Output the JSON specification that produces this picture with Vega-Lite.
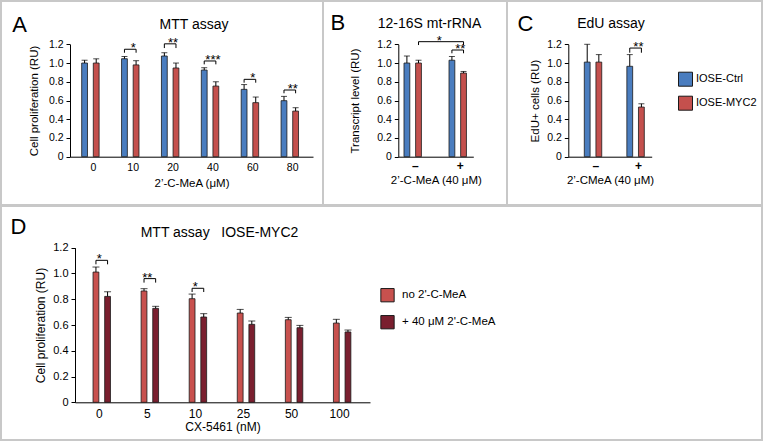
{
"$schema": "https://vega.github.io/schema/vega-lite/v6.json",
"padding": 0,
"spacing": -2,
"datasets": {
"barsA": [
{"dose":"0","group":"IOSE-Ctrl","value":1.0,"upper":1.03},
{"dose":"0","group":"IOSE-MYC2","value":1.0,"upper":1.045},
{"dose":"10","group":"IOSE-Ctrl","value":1.046,"upper":1.07},
{"dose":"10","group":"IOSE-MYC2","value":0.98,"upper":1.025},
{"dose":"20","group":"IOSE-Ctrl","value":1.075,"upper":1.11},
{"dose":"20","group":"IOSE-MYC2","value":0.947,"upper":1.0},
{"dose":"40","group":"IOSE-Ctrl","value":0.925,"upper":0.95},
{"dose":"40","group":"IOSE-MYC2","value":0.754,"upper":0.8},
{"dose":"60","group":"IOSE-Ctrl","value":0.719,"upper":0.77},
{"dose":"60","group":"IOSE-MYC2","value":0.577,"upper":0.637},
{"dose":"80","group":"IOSE-Ctrl","value":0.598,"upper":0.644},
{"dose":"80","group":"IOSE-MYC2","value":0.487,"upper":0.523}
],
"brkA": [
{"id":"10","dose":"10","group":"IOSE-Ctrl","y":1.11,"o":1},
{"id":"10","dose":"10","group":"IOSE-Ctrl","y":1.147,"o":2},
{"id":"10","dose":"10","group":"IOSE-MYC2","y":1.147,"o":3},
{"id":"10","dose":"10","group":"IOSE-MYC2","y":1.11,"o":4},
{"id":"20","dose":"20","group":"IOSE-Ctrl","y":1.16,"o":1},
{"id":"20","dose":"20","group":"IOSE-Ctrl","y":1.205,"o":2},
{"id":"20","dose":"20","group":"IOSE-MYC2","y":1.205,"o":3},
{"id":"20","dose":"20","group":"IOSE-MYC2","y":1.16,"o":4},
{"id":"40","dose":"40","group":"IOSE-Ctrl","y":0.986,"o":1},
{"id":"40","dose":"40","group":"IOSE-Ctrl","y":1.022,"o":2},
{"id":"40","dose":"40","group":"IOSE-MYC2","y":1.022,"o":3},
{"id":"40","dose":"40","group":"IOSE-MYC2","y":0.986,"o":4},
{"id":"60","dose":"60","group":"IOSE-Ctrl","y":0.79,"o":1},
{"id":"60","dose":"60","group":"IOSE-Ctrl","y":0.826,"o":2},
{"id":"60","dose":"60","group":"IOSE-MYC2","y":0.826,"o":3},
{"id":"60","dose":"60","group":"IOSE-MYC2","y":0.79,"o":4},
{"id":"80","dose":"80","group":"IOSE-Ctrl","y":0.677,"o":1},
{"id":"80","dose":"80","group":"IOSE-Ctrl","y":0.712,"o":2},
{"id":"80","dose":"80","group":"IOSE-MYC2","y":0.712,"o":3},
{"id":"80","dose":"80","group":"IOSE-MYC2","y":0.677,"o":4}
],
"starsA": [
{"dose":"10","label":"*","y":1.147},
{"dose":"20","label":"**","y":1.205},
{"dose":"40","label":"***","y":1.022},
{"dose":"60","label":"*","y":0.826},
{"dose":"80","label":"**","y":0.712}
],
"barsB": [
{"dose":"–","group":"IOSE-Ctrl","value":1.0,"upper":1.075},
{"dose":"–","group":"IOSE-MYC2","value":1.0,"upper":1.03},
{"dose":"+","group":"IOSE-Ctrl","value":1.03,"upper":1.07},
{"dose":"+","group":"IOSE-MYC2","value":0.893,"upper":0.91}
],
"brkB": [
{"id":"L","dose":"–","group":"IOSE-MYC2","y":1.192,"o":1},
{"id":"L","dose":"–","group":"IOSE-MYC2","y":1.228,"o":2},
{"id":"L","dose":"+","group":"IOSE-MYC2","y":1.228,"o":3},
{"id":"L","dose":"+","group":"IOSE-MYC2","y":1.192,"o":4},
{"id":"S","dose":"+","group":"IOSE-Ctrl","y":1.104,"o":1},
{"id":"S","dose":"+","group":"IOSE-Ctrl","y":1.139,"o":2},
{"id":"S","dose":"+","group":"IOSE-MYC2","y":1.139,"o":3},
{"id":"S","dose":"+","group":"IOSE-MYC2","y":1.104,"o":4}
],
"starsB": [
{"dose":"+","label":"**","y":1.139}
],
"starsB2": [
{"dose":"+","group":"IOSE-Ctrl","label":"*","y":1.228}
],
"barsC": [
{"dose":"–","group":"IOSE-Ctrl","value":1.01,"upper":1.2},
{"dose":"–","group":"IOSE-MYC2","value":1.01,"upper":1.09},
{"dose":"+","group":"IOSE-Ctrl","value":0.965,"upper":1.09},
{"dose":"+","group":"IOSE-MYC2","value":0.53,"upper":0.565}
],
"brkC": [
{"id":"S","dose":"+","group":"IOSE-Ctrl","y":1.11,"o":1},
{"id":"S","dose":"+","group":"IOSE-Ctrl","y":1.16,"o":2},
{"id":"S","dose":"+","group":"IOSE-MYC2","y":1.16,"o":3},
{"id":"S","dose":"+","group":"IOSE-MYC2","y":1.11,"o":4}
],
"starsC": [
{"dose":"+","label":"**","y":1.16}
],
"barsD": [
{"dose":"0","group":"no 2'-C-MeA","value":1.011,"upper":1.05},
{"dose":"0","group":"+ 40 μM 2'-C-MeA","value":0.822,"upper":0.858},
{"dose":"5","group":"no 2'-C-MeA","value":0.864,"upper":0.882},
{"dose":"5","group":"+ 40 μM 2'-C-MeA","value":0.729,"upper":0.745},
{"dose":"10","group":"no 2'-C-MeA","value":0.804,"upper":0.84},
{"dose":"10","group":"+ 40 μM 2'-C-MeA","value":0.662,"upper":0.688},
{"dose":"25","group":"no 2'-C-MeA","value":0.693,"upper":0.721},
{"dose":"25","group":"+ 40 μM 2'-C-MeA","value":0.605,"upper":0.631},
{"dose":"50","group":"no 2'-C-MeA","value":0.641,"upper":0.659},
{"dose":"50","group":"+ 40 μM 2'-C-MeA","value":0.579,"upper":0.597},
{"dose":"100","group":"no 2'-C-MeA","value":0.615,"upper":0.644},
{"dose":"100","group":"+ 40 μM 2'-C-MeA","value":0.546,"upper":0.561}
],
"brkD": [
{"id":"0","dose":"0","group":"no 2'-C-MeA","y":1.071,"o":1},
{"id":"0","dose":"0","group":"no 2'-C-MeA","y":1.102,"o":2},
{"id":"0","dose":"0","group":"+ 40 μM 2'-C-MeA","y":1.102,"o":3},
{"id":"0","dose":"0","group":"+ 40 μM 2'-C-MeA","y":1.071,"o":4},
{"id":"5","dose":"5","group":"no 2'-C-MeA","y":0.929,"o":1},
{"id":"5","dose":"5","group":"no 2'-C-MeA","y":0.96,"o":2},
{"id":"5","dose":"5","group":"+ 40 μM 2'-C-MeA","y":0.96,"o":3},
{"id":"5","dose":"5","group":"+ 40 μM 2'-C-MeA","y":0.929,"o":4},
{"id":"10","dose":"10","group":"no 2'-C-MeA","y":0.856,"o":1},
{"id":"10","dose":"10","group":"no 2'-C-MeA","y":0.885,"o":2},
{"id":"10","dose":"10","group":"+ 40 μM 2'-C-MeA","y":0.885,"o":3},
{"id":"10","dose":"10","group":"+ 40 μM 2'-C-MeA","y":0.856,"o":4}
],
"starsD": [
{"dose":"0","label":"*","y":1.102},
{"dose":"5","label":"**","y":0.96},
{"dose":"10","label":"*","y":0.885}
]
},
"vconcat": [
{
"bounds": "flush",
"spacing": 0,
"hconcat": [
{
"width": 322, "height": 204,
"title": {"text": "MTT assay", "frame": "group", "anchor": "middle", "dx": 32, "offset": -41.8, "baseline": "alphabetic", "fontSize": 14},
"layer": [
{"data": {"name": "barsA"}, "mark": {"type": "bar", "stroke": "#1a1a1a", "strokeWidth": 0.8},
 "encoding": {
  "x": {"field": "dose", "type": "nominal", "sort": ["0","10","20","40","60","80"],
        "scale": {"range": [69, 312], "paddingInner": 0.417, "paddingOuter": 0.255, "align": 0.574},
        "axis": {"orient": "bottom", "offset": -48.3, "ticks": false, "labelAngle": 0, "labelPadding": 6, "title": "2’-C-MeA (μM)", "titlePadding": 4}},
  "xOffset": {"field": "group", "type": "nominal", "sort": ["IOSE-Ctrl","IOSE-MYC2"]},
  "y": {"field": "value", "type": "quantitative",
        "scale": {"domain": [0, 1.2], "range": [155.7, 43.3], "nice": false},
        "axis": {"orient": "left", "offset": -69, "values": [0,0.2,0.4,0.6,0.8,1,1.2], "labelOverlap": false, "labelExpr": "datum.value == 0 ? '0' : format(datum.value, '.1f')", "title": "Cell proliferation (RU)", "titlePadding": 9}},
  "color": {"field": "group", "type": "nominal", "scale": {"domain": ["IOSE-Ctrl","IOSE-MYC2"], "range": ["#4a7dbf","#c4504d"]}, "legend": null}
 }},
{"data": {"name": "barsA"}, "mark": {"type": "rule", "color": "#000", "strokeWidth": 1},
 "encoding": {
  "x": {"field": "dose", "type": "nominal", "sort": ["0","10","20","40","60","80"],
        "axis": {"orient": "top", "title": "A", "titleX": 10.7, "titleY": 30.7, "titleAngle": 0, "titleAlign": "left", "titleBaseline": "alphabetic", "titleFontSize": 22, "labels": false, "ticks": false, "domain": false}},
  "xOffset": {"field": "group", "type": "nominal", "sort": ["IOSE-Ctrl","IOSE-MYC2"]},
  "y": {"field": "value", "type": "quantitative", "axis": {"orient": "left", "offset": -69, "values": [0,0.2,0.4,0.6,0.8,1,1.2], "labelOverlap": false, "labelExpr": "datum.value == 0 ? '0' : format(datum.value, '.1f')", "title": "Cell proliferation (RU)", "titlePadding": 9}},
  "y2": {"field": "upper"}
 }},
{"data": {"name": "barsA"}, "mark": {"type": "tick", "color": "#000", "size": 6, "thickness": 1},
 "encoding": {
  "x": {"field": "dose", "type": "nominal", "sort": ["0","10","20","40","60","80"], "axis": null},
  "xOffset": {"field": "group", "type": "nominal", "sort": ["IOSE-Ctrl","IOSE-MYC2"]},
  "y": {"field": "upper", "type": "quantitative", "axis": {"orient": "left", "offset": -69, "values": [0,0.2,0.4,0.6,0.8,1,1.2], "labelOverlap": false, "labelExpr": "datum.value == 0 ? '0' : format(datum.value, '.1f')", "title": "Cell proliferation (RU)", "titlePadding": 9}}
 }},
{"data": {"name": "brkA"}, "mark": {"type": "line", "color": "#000", "strokeWidth": 1},
 "encoding": {
  "x": {"field": "dose", "type": "nominal", "sort": ["0","10","20","40","60","80"], "axis": null},
  "xOffset": {"field": "group", "type": "nominal", "sort": ["IOSE-Ctrl","IOSE-MYC2"]},
  "y": {"field": "y", "type": "quantitative", "axis": {"orient": "left", "offset": -69, "values": [0,0.2,0.4,0.6,0.8,1,1.2], "labelOverlap": false, "labelExpr": "datum.value == 0 ? '0' : format(datum.value, '.1f')", "title": "Cell proliferation (RU)", "titlePadding": 9}},
  "detail": {"field": "id"},
  "order": {"field": "o"}
 }},
{"data": {"name": "starsA"}, "mark": {"type": "text", "fontSize": 13, "baseline": "alphabetic", "dy": 3, "color": "#000"},
 "encoding": {
  "x": {"field": "dose", "type": "nominal", "sort": ["0","10","20","40","60","80"], "axis": null},
  "y": {"field": "y", "type": "quantitative", "axis": {"orient": "left", "offset": -69, "values": [0,0.2,0.4,0.6,0.8,1,1.2], "labelOverlap": false, "labelExpr": "datum.value == 0 ? '0' : format(datum.value, '.1f')", "title": "Cell proliferation (RU)", "titlePadding": 9}},
  "text": {"field": "label"}
 }}
],
"resolve": {"axis": {"x": "independent"}}
},
{
"width": 184, "height": 204,
"title": {"text": "12-16S mt-rRNA", "frame": "group", "anchor": "middle", "dx": 14.5, "offset": -40.5, "baseline": "alphabetic", "fontSize": 14},
"layer": [
{"data": {"name": "barsB"}, "mark": {"type": "bar", "stroke": "#1a1a1a", "strokeWidth": 0.8},
 "encoding": {
  "x": {"field": "dose", "type": "nominal", "sort": ["–","+"],
        "scale": {"range": [75.3, 150.3], "paddingInner": 0.496, "paddingOuter": 0.081, "align": 0.78},
        "axis": {"orient": "bottom", "offset": -48.3, "ticks": false, "labelAngle": 0, "labelPadding": 4, "labelFontSize": 12, "labelFontWeight": "bold", "title": "2’-C-MeA (40 μM)", "titlePadding": 3}},
  "xOffset": {"field": "group", "type": "nominal", "sort": ["IOSE-Ctrl","IOSE-MYC2"]},
  "y": {"field": "value", "type": "quantitative",
        "scale": {"domain": [0, 1.2], "range": [155.7, 43.3], "nice": false},
        "axis": {"orient": "left", "offset": -75.3, "values": [0,0.2,0.4,0.6,0.8,1,1.2], "labelOverlap": false, "labelExpr": "datum.value == 0 ? '0' : format(datum.value, '.1f')", "title": "Transcript level (RU)", "titlePadding": 16}},
  "color": {"field": "group", "type": "nominal", "scale": {"domain": ["IOSE-Ctrl","IOSE-MYC2"], "range": ["#4a7dbf","#c4504d"]}, "legend": null}
 }},
{"data": {"name": "barsB"}, "mark": {"type": "rule", "color": "#000", "strokeWidth": 1},
 "encoding": {
  "x": {"field": "dose", "type": "nominal", "sort": ["–","+"],
        "axis": {"orient": "top", "title": "B", "titleX": 7, "titleY": 28, "titleAngle": 0, "titleAlign": "left", "titleBaseline": "alphabetic", "titleFontSize": 22, "labels": false, "ticks": false, "domain": false}},
  "xOffset": {"field": "group", "type": "nominal", "sort": ["IOSE-Ctrl","IOSE-MYC2"]},
  "y": {"field": "value", "type": "quantitative", "axis": {"orient": "left", "offset": -75.3, "values": [0,0.2,0.4,0.6,0.8,1,1.2], "labelOverlap": false, "labelExpr": "datum.value == 0 ? '0' : format(datum.value, '.1f')", "title": "Transcript level (RU)", "titlePadding": 16}},
  "y2": {"field": "upper"}
 }},
{"data": {"name": "barsB"}, "mark": {"type": "tick", "color": "#000", "size": 6, "thickness": 1},
 "encoding": {
  "x": {"field": "dose", "type": "nominal", "sort": ["–","+"], "axis": null},
  "xOffset": {"field": "group", "type": "nominal", "sort": ["IOSE-Ctrl","IOSE-MYC2"]},
  "y": {"field": "upper", "type": "quantitative", "axis": {"orient": "left", "offset": -75.3, "values": [0,0.2,0.4,0.6,0.8,1,1.2], "labelOverlap": false, "labelExpr": "datum.value == 0 ? '0' : format(datum.value, '.1f')", "title": "Transcript level (RU)", "titlePadding": 16}}
 }},
{"data": {"name": "brkB"}, "mark": {"type": "line", "color": "#000", "strokeWidth": 1},
 "encoding": {
  "x": {"field": "dose", "type": "nominal", "sort": ["–","+"], "axis": null},
  "xOffset": {"field": "group", "type": "nominal", "sort": ["IOSE-Ctrl","IOSE-MYC2"]},
  "y": {"field": "y", "type": "quantitative", "axis": {"orient": "left", "offset": -75.3, "values": [0,0.2,0.4,0.6,0.8,1,1.2], "labelOverlap": false, "labelExpr": "datum.value == 0 ? '0' : format(datum.value, '.1f')", "title": "Transcript level (RU)", "titlePadding": 16}},
  "detail": {"field": "id"},
  "order": {"field": "o"}
 }},
{"data": {"name": "starsB"}, "mark": {"type": "text", "fontSize": 13, "baseline": "alphabetic", "dy": 3, "color": "#000"},
 "encoding": {
  "x": {"field": "dose", "type": "nominal", "sort": ["–","+"], "axis": null},
  "y": {"field": "y", "type": "quantitative", "axis": {"orient": "left", "offset": -75.3, "values": [0,0.2,0.4,0.6,0.8,1,1.2], "labelOverlap": false, "labelExpr": "datum.value == 0 ? '0' : format(datum.value, '.1f')", "title": "Transcript level (RU)", "titlePadding": 16}},
  "text": {"field": "label"}
 }},
{"data": {"name": "starsB2"}, "mark": {"type": "text", "fontSize": 13, "baseline": "alphabetic", "dy": 3, "dx": -12.7, "color": "#000"},
 "encoding": {
  "x": {"field": "dose", "type": "nominal", "sort": ["–","+"], "axis": null},
  "xOffset": {"field": "group", "type": "nominal", "sort": ["IOSE-Ctrl","IOSE-MYC2"]},
  "y": {"field": "y", "type": "quantitative", "axis": {"orient": "left", "offset": -75.3, "values": [0,0.2,0.4,0.6,0.8,1,1.2], "labelOverlap": false, "labelExpr": "datum.value == 0 ? '0' : format(datum.value, '.1f')", "title": "Transcript level (RU)", "titlePadding": 16}},
  "text": {"field": "label"}
 }}
],
"resolve": {"axis": {"x": "independent"}}
},
{
"width": 255, "height": 204,
"title": {"text": "EdU assay", "frame": "group", "anchor": "middle", "dx": -23.5, "offset": -40.8, "baseline": "alphabetic", "fontSize": 14},
"layer": [
{"data": {"name": "barsC"}, "mark": {"type": "bar", "stroke": "#1a1a1a", "strokeWidth": 0.8},
 "encoding": {
  "x": {"field": "dose", "type": "nominal", "sort": ["–","+"],
        "scale": {"range": [61.3, 144.7], "paddingInner": 0.458, "paddingOuter": 0.209, "align": 0.9},
        "axis": {"orient": "bottom", "offset": -48.3, "ticks": false, "labelAngle": 0, "labelPadding": 4, "labelFontSize": 12, "labelFontWeight": "bold", "title": "2’-CMeA (40 μM)", "titlePadding": 3}},
  "xOffset": {"field": "group", "type": "nominal", "sort": ["IOSE-Ctrl","IOSE-MYC2"]},
  "y": {"field": "value", "type": "quantitative",
        "scale": {"domain": [0, 1.2], "range": [155.7, 43.3], "nice": false},
        "axis": {"orient": "left", "offset": -61.3, "values": [0,0.2,0.4,0.6,0.8,1,1.2], "labelOverlap": false, "labelExpr": "datum.value == 0 ? '0' : format(datum.value, '.1f')", "title": "EdU+ cells (RU)", "titlePadding": 6}},
  "color": {"field": "group", "type": "nominal", "scale": {"domain": ["IOSE-Ctrl","IOSE-MYC2"], "range": ["#4a7dbf","#c4504d"]},
            "legend": {"orient": "none", "legendX": 171, "legendY": 70.7, "title": null, "symbolType": "square", "symbolSize": 196, "symbolStrokeColor": "#1a1a1a", "symbolStrokeWidth": 1, "symbolOpacity": 1, "labelFontSize": 11, "labelOffset": 3, "rowPadding": 5, "padding": 0}}
 }},
{"data": {"name": "barsC"}, "mark": {"type": "rule", "color": "#000", "strokeWidth": 1},
 "encoding": {
  "x": {"field": "dose", "type": "nominal", "sort": ["–","+"],
        "axis": {"orient": "top", "title": "C", "titleX": 10, "titleY": 29, "titleAngle": 0, "titleAlign": "left", "titleBaseline": "alphabetic", "titleFontSize": 22, "labels": false, "ticks": false, "domain": false}},
  "xOffset": {"field": "group", "type": "nominal", "sort": ["IOSE-Ctrl","IOSE-MYC2"]},
  "y": {"field": "value", "type": "quantitative", "axis": {"orient": "left", "offset": -61.3, "values": [0,0.2,0.4,0.6,0.8,1,1.2], "labelOverlap": false, "labelExpr": "datum.value == 0 ? '0' : format(datum.value, '.1f')", "title": "EdU+ cells (RU)", "titlePadding": 6}},
  "y2": {"field": "upper"}
 }},
{"data": {"name": "barsC"}, "mark": {"type": "tick", "color": "#000", "size": 6, "thickness": 1},
 "encoding": {
  "x": {"field": "dose", "type": "nominal", "sort": ["–","+"], "axis": null},
  "xOffset": {"field": "group", "type": "nominal", "sort": ["IOSE-Ctrl","IOSE-MYC2"]},
  "y": {"field": "upper", "type": "quantitative", "axis": {"orient": "left", "offset": -61.3, "values": [0,0.2,0.4,0.6,0.8,1,1.2], "labelOverlap": false, "labelExpr": "datum.value == 0 ? '0' : format(datum.value, '.1f')", "title": "EdU+ cells (RU)", "titlePadding": 6}}
 }},
{"data": {"name": "brkC"}, "mark": {"type": "line", "color": "#000", "strokeWidth": 1},
 "encoding": {
  "x": {"field": "dose", "type": "nominal", "sort": ["–","+"], "axis": null},
  "xOffset": {"field": "group", "type": "nominal", "sort": ["IOSE-Ctrl","IOSE-MYC2"]},
  "y": {"field": "y", "type": "quantitative", "axis": {"orient": "left", "offset": -61.3, "values": [0,0.2,0.4,0.6,0.8,1,1.2], "labelOverlap": false, "labelExpr": "datum.value == 0 ? '0' : format(datum.value, '.1f')", "title": "EdU+ cells (RU)", "titlePadding": 6}},
  "detail": {"field": "id"},
  "order": {"field": "o"}
 }},
{"data": {"name": "starsC"}, "mark": {"type": "text", "fontSize": 13, "baseline": "alphabetic", "dy": 3, "color": "#000"},
 "encoding": {
  "x": {"field": "dose", "type": "nominal", "sort": ["–","+"], "axis": null},
  "y": {"field": "y", "type": "quantitative", "axis": {"orient": "left", "offset": -61.3, "values": [0,0.2,0.4,0.6,0.8,1,1.2], "labelOverlap": false, "labelExpr": "datum.value == 0 ? '0' : format(datum.value, '.1f')", "title": "EdU+ cells (RU)", "titlePadding": 6}},
  "text": {"field": "label"}
 }}
],
"resolve": {"axis": {"x": "independent"}}
}
],
"resolve": {"scale": {"color": "independent"}, "legend": {"color": "independent"}}
},
{
"width": 761, "height": 234,
"title": {"text": "MTT assay\u00a0\u00a0\u00a0IOSE-MYC2", "frame": "group", "anchor": "middle", "dx": -162, "offset": -44.8, "baseline": "alphabetic", "fontSize": 14},
"layer": [
{"data": {"name": "barsD"}, "mark": {"type": "bar", "stroke": "#1a1a1a", "strokeWidth": 0.8},
 "encoding": {
  "x": {"field": "dose", "type": "nominal", "sort": ["0","5","10","25","50","100"],
        "scale": {"range": [74, 369], "paddingInner": 0.5, "paddingOuter": 0.318, "align": 0.4},
        "axis": {"orient": "bottom", "offset": -37.7, "ticks": false, "labelAngle": 0, "labelPadding": 6, "labelFontSize": 12, "title": "CX-5461 (nM)", "titleFontSize": 12, "titlePadding": 2}},
  "xOffset": {"field": "group", "type": "nominal", "sort": ["no 2'-C-MeA","+ 40 μM 2'-C-MeA"]},
  "y": {"field": "value", "type": "quantitative",
        "scale": {"domain": [0, 1.2], "range": [196.3, 41.7], "nice": false},
        "axis": {"orient": "left", "offset": -74, "values": [0,0.2,0.4,0.6,0.8,1,1.2], "labelOverlap": false, "labelExpr": "datum.value == 0 ? '0' : format(datum.value, '.1f')", "labelFontSize": 11, "title": "Cell proliferation (RU)", "titleFontSize": 12, "titlePadding": 5}},
  "color": {"field": "group", "type": "nominal", "scale": {"domain": ["no 2'-C-MeA","+ 40 μM 2'-C-MeA"], "range": ["#c8514e","#7a1f2f"]},
            "legend": {"orient": "none", "legendX": 379, "legendY": 81.7, "title": null, "symbolType": "square", "symbolSize": 177, "symbolStrokeColor": "#1a1a1a", "symbolStrokeWidth": 1, "symbolOpacity": 1, "labelFontSize": 11.5, "labelOffset": 7, "rowPadding": 8, "padding": 0}}
 }},
{"data": {"name": "barsD"}, "mark": {"type": "rule", "color": "#000", "strokeWidth": 1},
 "encoding": {
  "x": {"field": "dose", "type": "nominal", "sort": ["0","5","10","25","50","100"],
        "axis": {"orient": "top", "title": "D", "titleX": 9, "titleY": 27, "titleAngle": 0, "titleAlign": "left", "titleBaseline": "alphabetic", "titleFontSize": 22, "labels": false, "ticks": false, "domain": false}},
  "xOffset": {"field": "group", "type": "nominal", "sort": ["no 2'-C-MeA","+ 40 μM 2'-C-MeA"]},
  "y": {"field": "value", "type": "quantitative", "axis": {"orient": "left", "offset": -74, "values": [0,0.2,0.4,0.6,0.8,1,1.2], "labelOverlap": false, "labelExpr": "datum.value == 0 ? '0' : format(datum.value, '.1f')", "labelFontSize": 11, "title": "Cell proliferation (RU)", "titleFontSize": 12, "titlePadding": 5}},
  "y2": {"field": "upper"}
 }},
{"data": {"name": "barsD"}, "mark": {"type": "tick", "color": "#000", "size": 7, "thickness": 1},
 "encoding": {
  "x": {"field": "dose", "type": "nominal", "sort": ["0","5","10","25","50","100"], "axis": null},
  "xOffset": {"field": "group", "type": "nominal", "sort": ["no 2'-C-MeA","+ 40 μM 2'-C-MeA"]},
  "y": {"field": "upper", "type": "quantitative", "axis": {"orient": "left", "offset": -74, "values": [0,0.2,0.4,0.6,0.8,1,1.2], "labelOverlap": false, "labelExpr": "datum.value == 0 ? '0' : format(datum.value, '.1f')", "labelFontSize": 11, "title": "Cell proliferation (RU)", "titleFontSize": 12, "titlePadding": 5}}
 }},
{"data": {"name": "brkD"}, "mark": {"type": "line", "color": "#000", "strokeWidth": 1},
 "encoding": {
  "x": {"field": "dose", "type": "nominal", "sort": ["0","5","10","25","50","100"], "axis": null},
  "xOffset": {"field": "group", "type": "nominal", "sort": ["no 2'-C-MeA","+ 40 μM 2'-C-MeA"]},
  "y": {"field": "y", "type": "quantitative", "axis": {"orient": "left", "offset": -74, "values": [0,0.2,0.4,0.6,0.8,1,1.2], "labelOverlap": false, "labelExpr": "datum.value == 0 ? '0' : format(datum.value, '.1f')", "labelFontSize": 11, "title": "Cell proliferation (RU)", "titleFontSize": 12, "titlePadding": 5}},
  "detail": {"field": "id"},
  "order": {"field": "o"}
 }},
{"data": {"name": "starsD"}, "mark": {"type": "text", "fontSize": 13, "baseline": "alphabetic", "dy": 3, "color": "#000"},
 "encoding": {
  "x": {"field": "dose", "type": "nominal", "sort": ["0","5","10","25","50","100"], "axis": null},
  "y": {"field": "y", "type": "quantitative", "axis": {"orient": "left", "offset": -74, "values": [0,0.2,0.4,0.6,0.8,1,1.2], "labelOverlap": false, "labelExpr": "datum.value == 0 ? '0' : format(datum.value, '.1f')", "labelFontSize": 11, "title": "Cell proliferation (RU)", "titleFontSize": 12, "titlePadding": 5}},
  "text": {"field": "label"}
 }}
],
"resolve": {"axis": {"x": "independent"}}
}
],
"resolve": {"scale": {"color": "independent"}, "legend": {"color": "independent"}},
"config": {
 "font": "Liberation Sans",
 "view": {"stroke": "#c8c8c8", "strokeWidth": 2},
 "axis": {"labelFont": "Liberation Sans", "titleFont": "Liberation Sans", "labelFontSize": 10.5, "titleFontSize": 11.5, "titleFontWeight": "normal", "labelColor": "#000", "titleColor": "#000", "domainColor": "#000", "tickColor": "#000", "grid": false, "tickSize": 4, "labelPadding": 3, "labelOverlap": false, "domainWidth": 1, "tickWidth": 1},
 "title": {"font": "Liberation Sans", "fontWeight": "normal", "color": "#000"},
 "legend": {"labelFont": "Liberation Sans", "labelColor": "#000"},
 "text": {"font": "Liberation Sans"}
}
}
